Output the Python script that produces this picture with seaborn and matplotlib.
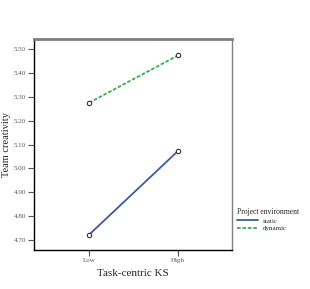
import pandas as pd
import matplotlib
matplotlib.use("Agg")
import matplotlib.pyplot as plt
import seaborn as sns

ks_levels = ["Low", "High"]
environments = ["static", "dynamic"]
static_vals = [4.722, 5.072]
dynamic_vals = [5.275, 5.473]
y_ticks = [4.70, 4.80, 4.90, 5.00, 5.10, 5.20, 5.30, 5.40, 5.50]

df = pd.DataFrame({
    "Task-centric KS": ks_levels * 2,
    "Team creativity": static_vals + dynamic_vals,
    "Project environment": [environments[0]] * 2 + [environments[1]] * 2,
})
df["x"] = df["Task-centric KS"].map({k: i for i, k in enumerate(ks_levels)})

sns.set_style("white")
plt.rcParams["font.family"] = ["Liberation Serif", "DejaVu Serif"]

fig = plt.figure(figsize=(3.1, 2.89), dpi=100)
ax = fig.add_axes([0.110, 0.135, 0.638, 0.730])

palette = {"static": "#3e59a8", "dynamic": "#35b04a"}
sns.lineplot(data=df, x="x", y="Team creativity", hue="Project environment",
             style="Project environment", palette=palette,
             dashes={"static": "", "dynamic": (2, 1)}, linewidth=1.3, ax=ax,
             legend=True)
sns.scatterplot(data=df, x="x", y="Team creativity", ax=ax, marker="o",
                s=10, facecolor="white", edgecolor="#333333", linewidth=0.8,
                legend=False, zorder=5)

ax.set_xlim(-0.62, 1.61)
ax.set_ylim(4.658, 5.542)
ax.set_xticks(range(len(ks_levels)))
ax.set_xticklabels(ks_levels)
ax.set_yticks(y_ticks)
ax.set_yticklabels([f"{v:.2f}" for v in y_ticks])
ax.tick_params(axis="both", labelsize=5, colors="#555555", length=4, width=0.8,
               direction="out", left=True, bottom=True, pad=2)
ax.set_xlabel("Task-centric KS", fontsize=8, labelpad=4)
ax.set_ylabel("Team creativity", fontsize=7.5)
ax.yaxis.set_label_coords(-0.115, 0.5)

for side in ["left", "bottom"]:
    ax.spines[side].set_color("black")
    ax.spines[side].set_linewidth(1.0)
ax.spines["top"].set_color("#808080")
ax.spines["top"].set_linewidth(2.0)
ax.spines["right"].set_color("#808080")
ax.spines["right"].set_linewidth(1.0)

leg = ax.legend(loc="upper left", bbox_to_anchor=(1.0, 0.22), frameon=False,
                title="Project environment", fontsize=5, title_fontsize=5.5,
                handlelength=3, borderaxespad=0.3, labelspacing=0.2)
leg._legend_box.align = "left"

fig.savefig("out.png", dpi=100, facecolor="white")
